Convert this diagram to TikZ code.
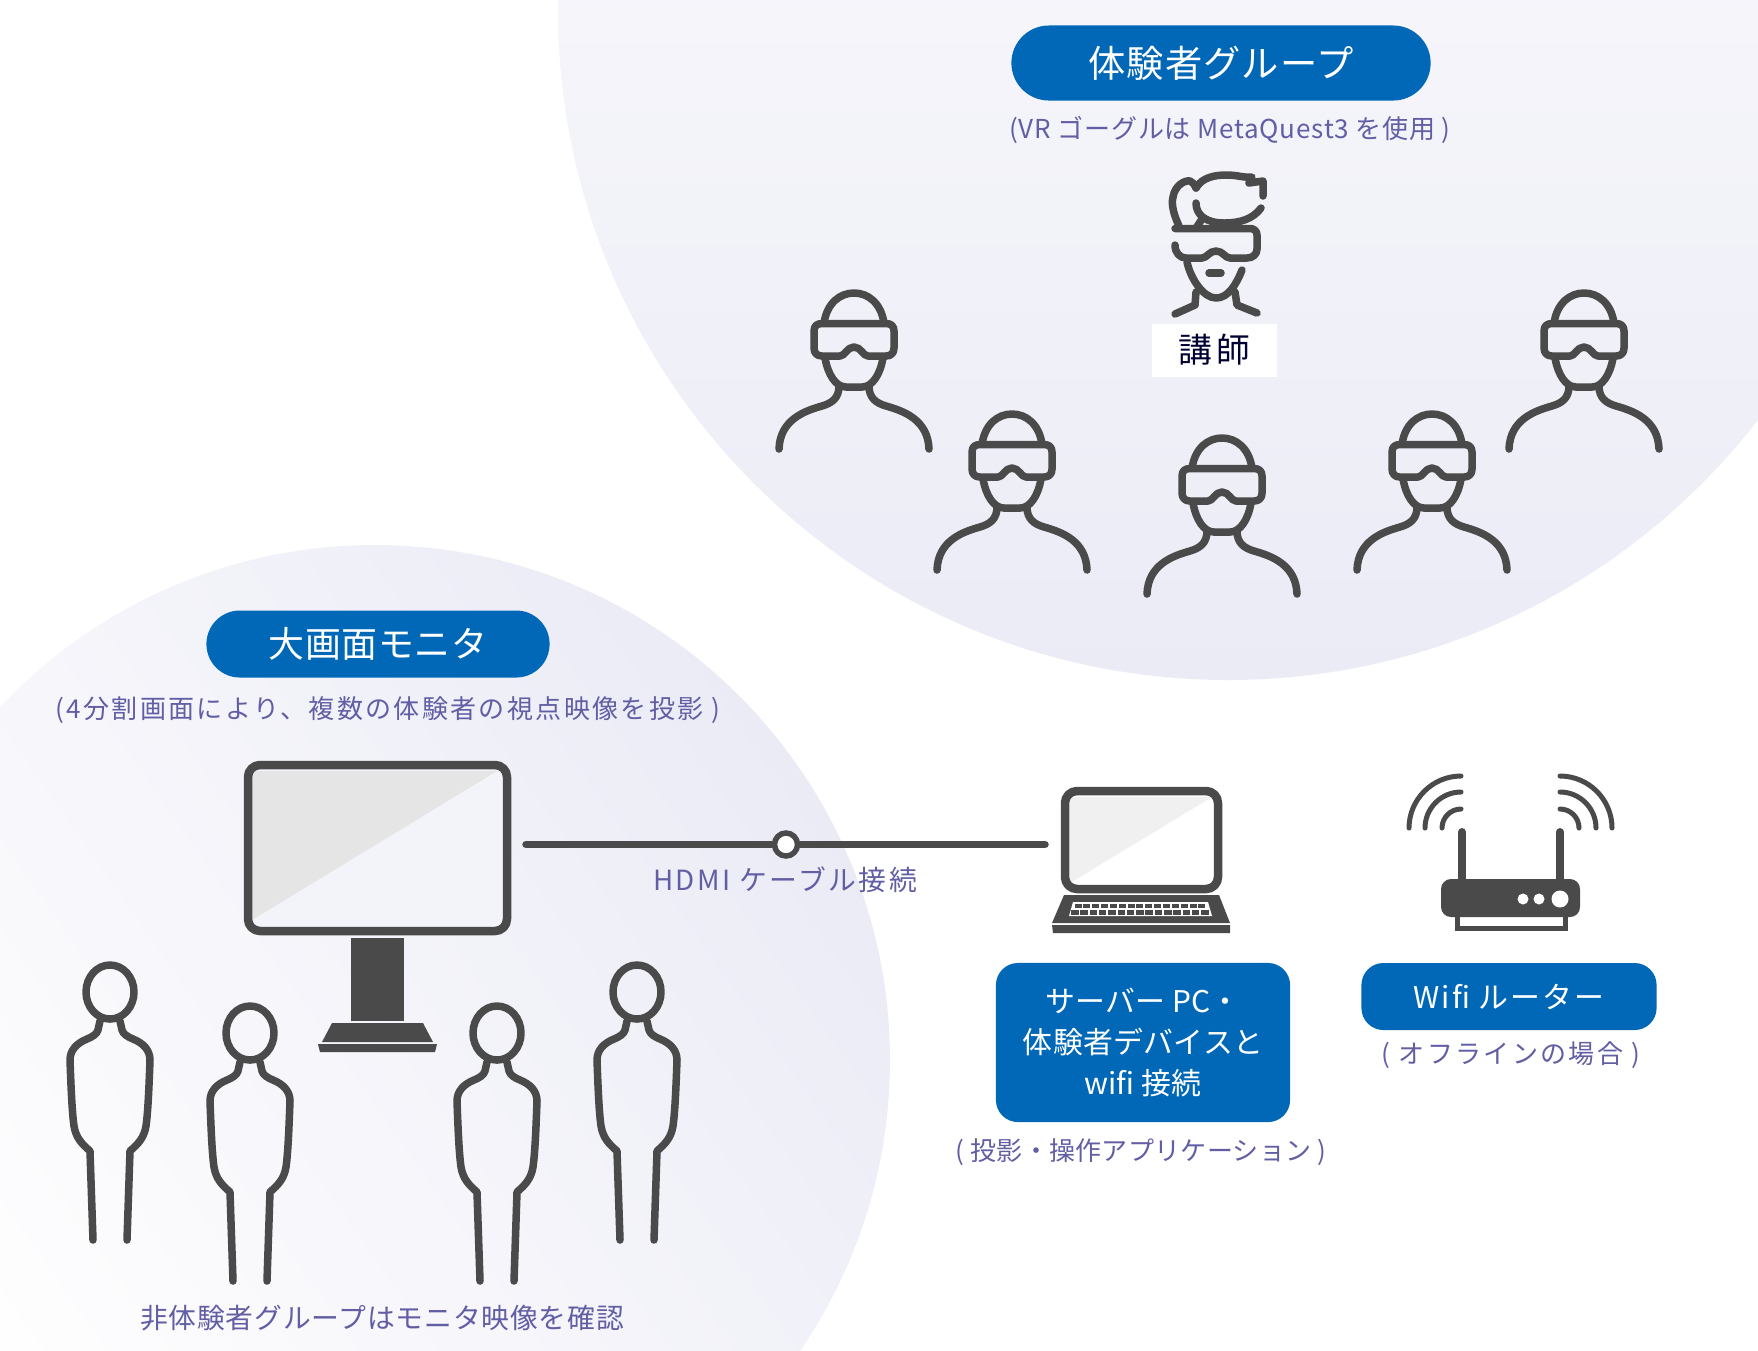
\documentclass[tikz,border=0pt]{standalone}
\usepackage{fontspec}
\setmainfont{Noto Sans CJK JP}
\definecolor{icondark}{HTML}{4A4A4A}
\definecolor{pillblue}{HTML}{0068B7}
\definecolor{captionpurple}{HTML}{625EA4}
\definecolor{circlelav}{HTML}{EBEBF6}
\definecolor{circlepale}{HTML}{F3F3FA}

\begin{document}
\begin{tikzpicture}[x=0.01cm, y=-0.01cm,
        pill/.style={fill=pillblue, text=white, rounded corners=0.22cm, inner sep=0pt, align=center},
        caption/.style={text=captionpurple, inner sep=0pt, font=\fontsize{7.4}{9}\selectfont},
        wide/.style={font=\fontsize{#1}{11.6}\selectfont\addfontfeature{LetterSpace=9}},
        icon/.style={draw=icondark, line width=0.75mm, line cap=round, line join=round},
        solid dark/.style={fill=icondark, draw=none},
        vrgoggles/.pic={
            \draw[icon] (-32,3.5) -- (32,3.5) .. controls (37,3.5) and (40,6) .. (40,11) -- (40,28)
                .. controls (40,33) and (37,36) .. (32,36) -- (14,36)
                .. controls (9,36) and (7,27) .. (0,27) .. controls (-7,27) and (-9,36) .. (-14,36)
                -- (-32,36) .. controls (-37,36) and (-40,33) .. (-40,28) -- (-40,11)
                .. controls (-40,6) and (-37,3.5) .. (-32,3.5) -- cycle;
        },
        vrperson/.pic={
            \pic {vrgoggles};
            \draw[icon] (-30,3) .. controls (-27,-17) and (-14,-27) .. (0,-27) .. controls (14,-27) and (27,-17) .. (30,3);
            \draw[icon] (-29,38) .. controls (-26,55) and (-18,67) .. (-8,67) -- (8,67) .. controls (18,67) and (26,55) .. (29,38);
            \foreach \side in {1,-1}
                \draw[icon, xscale=\side] (15,66) .. controls (15,78) and (22,83) .. (32,86) .. controls (50,91) and (74,100) .. (75,129);
        },
        standperson/.pic={
            \draw[icon, line width=0.75mm] (0,0) ellipse [x radius=24, y radius=27];
            \foreach \side in {1,-1}
                \draw[icon, xscale=\side] (10,29) -- (12,38) .. controls (13,42) and (18,45) .. (23,47)
                    .. controls (33,51) and (40,58) .. (40,68) .. controls (39,95) and (38,120) .. (36,134)
                    .. controls (34,146) and (28,152) .. (20,159) -- (17,248);
        }]
    \useasboundingbox (0,0) rectangle (1758,1350);

    % background circles
    \shade[top color=white, bottom color=circlelav] (1228,10) circle [radius=670];
    \shade[top color=circlelav, bottom color=white, shading angle=-55] (375,1060) circle [radius=515];

    % vr group
    \node[pill, minimum width=4.19cm, minimum height=0.75cm, rounded corners=0.375cm, font=\fontsize{10.6}{12}\selectfont\addfontfeature{LetterSpace=3}] (vrpill) at (1221,63) {体験者グループ};
    \node[caption, font=\fontsize{7.4}{9}\selectfont\addfontfeature{LetterSpace=3}] (vrnote) at (1230,130) {(VR ゴーグルは MetaQuest3 を使用 )};

    \pic at (854,320) {vrperson};
    \pic at (1012,441) {vrperson};
    \pic at (1222,465) {vrperson};
    \pic at (1432,441) {vrperson};
    \pic at (1584,320) {vrperson};

    % teacher with ponytail
    \begin{scope}[shift={(1216,225)}]
        \draw[icon] (-37,1) .. controls (-42,-10) and (-45,-20) .. (-43,-28) .. controls (-41,-40) and (-31,-45) .. (-26,-44) .. controls (-23,-43) and (-21,-40) .. (-20,-37);
        \draw[icon] (-20,-37) .. controls (-14,-48) and (0,-50) .. (10,-50) .. controls (22,-50) and (28,-47) .. (36,-48) -- (33,-42) -- (47,-44) -- (47,-29);
        \draw[icon] (-20,-22) .. controls (-20,-10) and (-10,-2) .. (8,-2) .. controls (24,-2) and (37,-6) .. (45,-17);
        \draw[icon] (-20,3) -- (-14,-6);
        \draw[icon] (-41,20) .. controls (-41,28) and (-36,33) .. (-30,33) -- (-14,33)
            .. controls (-9,33) and (-7,26) .. (0,26) .. controls (7,26) and (9,33) .. (14,33) -- (31,33)
            .. controls (37,33) and (41,29) .. (41,24) -- (41,10) .. controls (41,6) and (38,3.5) .. (34,3.5) -- (-41,3.5);
        \draw[icon] (-29,37) .. controls (-25,55) and (-12,73) .. (0,73) .. controls (12,73) and (20,60) .. (26,45);
        \draw[icon] (-7,48) -- (5,48);
        \draw[icon] (-20,67) -- (-21,80) -- (-41,89);
        \draw[icon] (19,67) -- (21,80) -- (41,88);
    \end{scope}
    \node[fill=white, minimum width=1.25cm, minimum height=0.53cm, inner sep=0pt, text=black!80!blue, font=\fontsize{9.6}{12}\selectfont\addfontfeature{LetterSpace=12}] (teacher) at (1214.5,350) {講師};

    % monitor group
    \node[pill, minimum width=3.43cm, minimum height=0.67cm, rounded corners=0.335cm, font=\fontsize{10.2}{12}\selectfont\addfontfeature{LetterSpace=2}] (monpill) at (378,644) {大画面モニタ};
    \node[caption, wide=7.4] (monnote) at (388,710) {(4分割画面により、複数の体験者の視点映像を投影 )};

    \fill[circlepale] (248,765) rectangle (507,931);
    \fill[black!10] (252,771) -- (497,771) -- (252,920) -- cycle;
    \draw[icon, line width=0.85mm, rounded corners=0.12cm] (248,765) rectangle (507,931);
    \fill[solid dark] (351,938) rectangle (404,1021);
    \fill[solid dark] (332,1023) -- (423,1023) -- (433,1042) -- (322,1042) -- cycle;
    \fill[solid dark] (318,1044) -- (437,1044) -- (435,1052) -- (320,1052) -- cycle;

    \pic at (110,992) {standperson};
    \pic at (250,1033) {standperson};
    \pic at (497,1033) {standperson};
    \pic at (637,992) {standperson};

    \node[caption, font=\fontsize{7.9}{9}\selectfont\addfontfeature{LetterSpace=3}] (watchnote) at (382,1318) {非体験者グループはモニタ映像を確認};

    % hdmi cable
    \coordinate (hdmimon) at (526,844.5);
    \coordinate (hdmipc) at (1045,844.5);
    \node[circle, draw=icondark, fill=white, line width=0.55mm, minimum size=0.23cm, inner sep=0pt] (hdmijoint) at (786,844.5) {};
    \draw[icon] (hdmimon) -- (hdmijoint);
    \draw[icon] (hdmijoint) -- (hdmipc);
    \node[caption, wide=7.9] (hdminote) at (785,880) {HDMI ケーブル接続};

    % laptop
    \fill[white] (1065,791) rectangle (1218,889);
    \fill[black!6] (1070,797) -- (1212,797) -- (1070,883) -- cycle;
    \draw[icon, line width=0.85mm, rounded corners=0.12cm] (1065,791) rectangle (1218,889);
    \fill[solid dark] (1064,895) -- (1219,895) -- (1230,923) -- (1052,923) -- cycle;
    \fill[solid dark] (1052,925) -- (1230,925) -- (1230,933) -- (1053,933) -- cycle;
    \fill[white] (1073,902) -- (1208,902) -- (1212,916) -- (1069,916) -- cycle;
    \foreach \col in {0,...,14} {
        \fill[solid dark] ({1074.5+\col*8.85},904) rectangle ++(7,4.3);
        \fill[solid dark] ({1071+\col*9.3},910) rectangle ++(7.5,5);
    }

    % router
    \fill[solid dark, rounded corners=0.1cm] (1441,879) rectangle (1580,917);
    \draw[icondark, line width=0.5mm] (1457,915) -- (1457,928) -- (1565,928) -- (1565,915);
    \draw[icon, line width=0.8mm] (1462,832) -- (1462,880);
    \draw[icon, line width=0.8mm] (1560,832) -- (1560,880);
    \fill[white] (1523,899) circle [radius=5.5];
    \fill[white] (1539,899) circle [radius=5.5];
    \fill[white] (1560,899) circle [radius=8.5];
    \foreach \waver in {52,36,19} {
        \draw[icon, line width=0.5mm] (1461-\waver,828) .. controls (1461-\waver,828-0.55*\waver) and (1461-0.55*\waver,828-\waver) .. (1461,828-\waver);
        \draw[icon, line width=0.5mm] (1560+\waver,828) .. controls (1560+\waver,828-0.55*\waver) and (1560+0.55*\waver,828-\waver) .. (1560,828-\waver);
    }

    % labels below the devices
    \node[pill, minimum width=2.94cm, minimum height=1.59cm, font=\fontsize{8.5}{11.6}\selectfont\addfontfeature{LetterSpace=1}] (serverpill) at (1143,1042.5) {サーバー PC・\\体験者デバイスと\\wifi 接続};
    \node[caption, font=\fontsize{7.4}{9}\selectfont\addfontfeature{LetterSpace=1}] (servernote) at (1141,1152) {( 投影・操作アプリケーション )};
    \node[pill, minimum width=2.95cm, minimum height=0.67cm, font=\fontsize{8.5}{11.6}\selectfont\addfontfeature{LetterSpace=7}] (routerpill) at (1509,996.5) {Wifi ルーター};
    \node[caption, wide=7.4] (routernote) at (1511,1055) {( オフラインの場合 )};
\end{tikzpicture}
\end{document}
